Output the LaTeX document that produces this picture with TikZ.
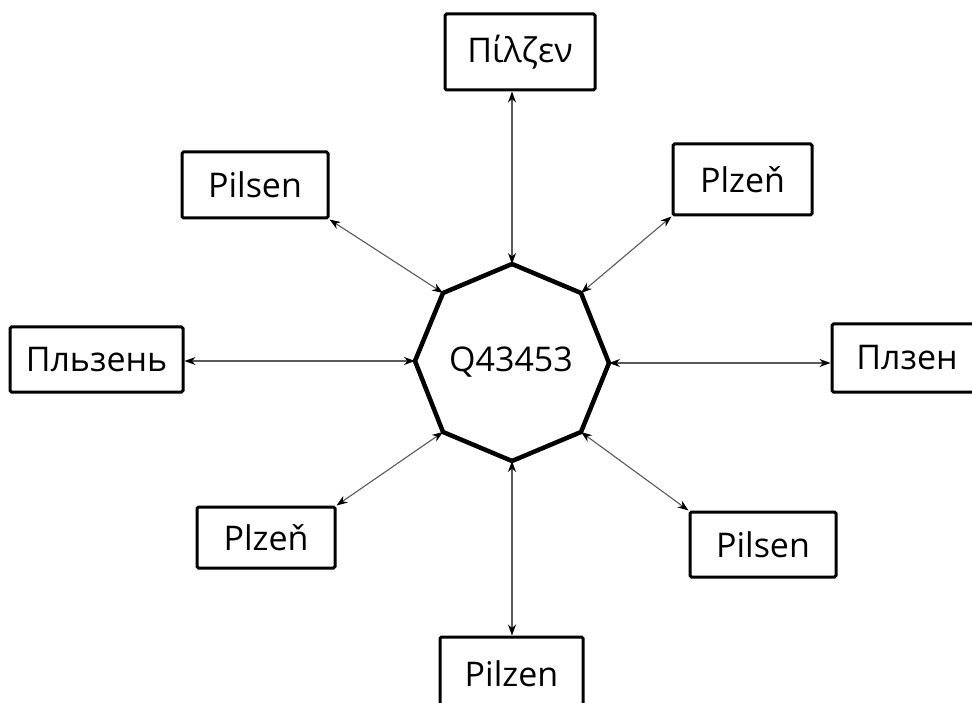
\documentclass[tikz,border=0pt]{standalone}
\usepackage{fontspec}
\setmainfont{Open Sans}
\usetikzlibrary{arrows.meta}
\begin{document}
\begin{tikzpicture}[x=1pt,y=-1pt,
  lbl/.style={draw=black, line width=3pt, rounded corners=1.5pt, fill=white,
    font=\fontsize{34}{40}\selectfont, inner sep=0pt, anchor=center},
  link/.style={draw=black!65, line width=1.1pt,
    {Stealth[length=11pt,width=8pt,inset=3.5pt,color=black]}-{Stealth[length=11pt,width=8pt,inset=3.5pt,color=black]}},
  oct/.style={draw=black, line width=4.5pt, line join=miter},
  ctext/.style={font=\fontsize{34}{40}\selectfont, inner sep=0pt}]
\useasboundingbox (0,0) rectangle (972,703);

% octagon vertices
\coordinate (vT)  at (512,264);
\coordinate (vUR) at (581,293);
\coordinate (vR)  at (609,363);
\coordinate (vLR) at (581,432);
\coordinate (vB)  at (512,461);
\coordinate (vLL) at (443,432);
\coordinate (vL)  at (415,361);
\coordinate (vUL) at (443,293);
\draw[oct] (vT) -- (vUR) -- (vR) -- (vLR) -- (vB) -- (vLL) -- (vL) -- (vUL) -- cycle;
\node[ctext] (q) at (511,362) {Q43453};

% boxes
\node[lbl, minimum width=150pt, minimum height=76pt] (gr)  at (520,52)    {Πίλζεν};
\node[lbl, minimum width=139pt, minimum height=71pt] (czA) at (742.5,179.5) {Plzeň};
\node[lbl, minimum width=150pt, minimum height=68pt] (mk)  at (907,358)   {Плзен};
\node[lbl, minimum width=146pt, minimum height=65pt] (deB) at (763,544.5) {Pilsen};
\node[lbl, minimum width=143pt, minimum height=73pt] (pz)  at (511.5,673.5) {Pilzen};
\node[lbl, minimum width=138pt, minimum height=61pt] (czB) at (266,537.5) {Plzeň};
\node[lbl, minimum width=173pt, minimum height=65pt] (ru)  at (96.5,359.5) {Пльзень};
\node[lbl, minimum width=146pt, minimum height=66pt] (deA) at (255,185)   {Pilsen};

% connectors
\draw[link] (gr.south -| vT) -- (vT);
\draw[link] (czA.south west) -- (vUR);
\draw[link] (mk.west |- vR) -- (vR);
\draw[link] (deB.north west) -- (vLR);
\draw[link] (pz.north -| vB) -- (vB);
\draw[link] (czB.north east) -- (vLL);
\draw[link] (ru.east |- vL) -- (vL);
\draw[link] (deA.south east) -- (vUL);
\end{tikzpicture}
\end{document}
